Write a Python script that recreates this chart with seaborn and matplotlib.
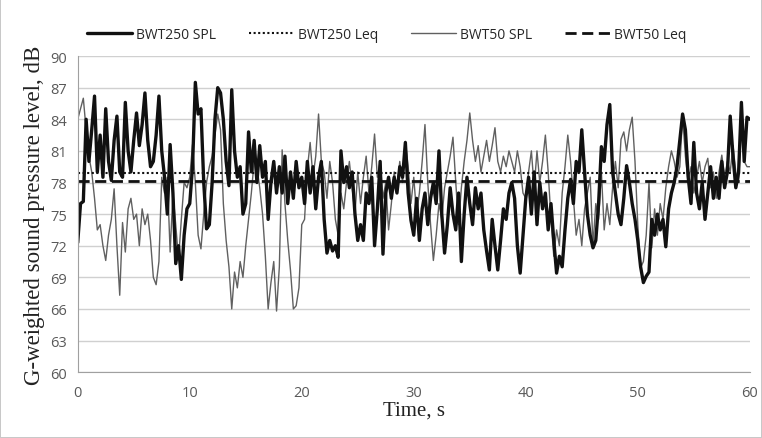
import matplotlib
matplotlib.use("Agg")
import matplotlib.pyplot as plt
import numpy as np
import pandas as pd
import seaborn as sns

# time axis, 0.25 s steps over 60 s
time_s = np.arange(0, 60.01, 0.25)

# BWT250 SPL, dB (4 values per second)
bwt250_spl = [
    72.3, 76.0, 76.2, 84.0, 80.0, 83.0, 86.2, 79.0, 82.5, 78.5, 85.0, 80.0,
    78.2, 82.0, 84.3, 79.0, 78.5, 85.6, 81.0, 79.0, 82.0, 84.6, 81.5, 83.5,
    86.5, 82.0, 79.5, 80.0, 82.5, 86.2, 81.0, 78.5, 75.0, 81.6, 77.0, 70.3,
    72.0, 68.8, 73.0, 75.5, 76.0, 79.5, 87.5, 84.5, 85.0, 78.0, 73.6, 74.0,
    78.0, 84.0, 87.0, 86.5, 84.0, 80.0, 77.7, 86.8, 81.0, 78.5, 79.5, 75.0,
    76.0, 82.8, 79.0, 82.0, 78.0, 81.5, 78.5, 80.0, 74.5, 78.0, 80.0, 77.0,
    79.5, 77.0, 80.5, 76.0, 79.0, 76.5, 80.0, 77.5, 78.5, 76.0, 80.0, 77.0,
    79.5, 75.5, 78.5, 80.0, 74.5, 71.3, 72.5, 71.5, 72.0, 70.9, 81.0, 78.0,
    79.5, 77.5, 79.0, 75.0, 72.5, 74.0, 72.5, 77.0, 76.0, 78.5, 72.0, 75.5,
    80.0, 71.2, 77.0, 78.5, 76.5, 78.5, 77.0, 79.5, 78.5, 81.8, 77.0, 74.4,
    73.0, 76.5, 72.5, 75.5, 77.0, 74.0, 76.5, 78.0, 76.0, 81.0, 75.0, 71.3,
    74.0, 77.5, 75.0, 73.5, 77.0, 70.5, 75.0, 78.5, 76.0, 74.0, 77.5, 75.5,
    77.0, 73.5, 71.5, 69.7, 74.5, 72.0, 69.7, 72.5, 75.5, 74.5, 77.0, 78.0,
    76.5, 72.0, 69.4, 73.0, 76.5, 78.5, 75.0, 79.0, 74.0, 78.0, 75.5, 77.0,
    73.5, 76.0, 72.5, 69.4, 71.0, 70.0, 73.5, 76.5, 78.3, 76.0, 80.0, 79.0,
    83.0, 79.0, 75.0, 73.0, 71.8, 72.5, 76.0, 81.4, 80.0, 83.5, 85.4, 79.0,
    77.0, 75.0, 74.0, 76.5, 79.6, 78.0, 76.0, 74.5, 72.5, 70.0, 68.5, 69.1,
    69.5, 74.5, 73.0, 75.0, 73.5, 74.5, 71.9, 75.5, 77.0, 78.0, 79.5, 82.0,
    84.5, 83.0, 78.5, 76.0, 81.8, 77.0, 75.5, 78.0, 74.5, 77.0, 79.5, 76.5,
    78.5, 76.5, 80.0, 77.5, 79.0, 84.3, 80.5, 77.5, 79.0, 85.6, 80.0, 84.2,
    84.0,
]

# BWT50 SPL, dB
bwt50_spl = [
    84.0, 85.0, 86.0, 83.0, 80.5, 79.0, 76.5, 73.5, 74.0, 72.0, 70.6, 73.0,
    74.5, 77.4, 72.0, 67.3, 74.2, 71.4, 75.5, 76.5, 74.5, 75.0, 72.0, 75.5,
    74.0, 75.0, 72.5, 69.0, 68.3, 70.5, 78.5, 77.0, 78.5, 71.4, 77.0, 74.0,
    70.7, 74.5, 78.0, 77.5, 78.5, 81.6, 78.0, 73.0, 71.7, 75.0, 78.0, 79.5,
    80.5, 82.5, 84.5, 83.0, 76.0, 72.5, 70.0, 66.0, 69.5, 68.0, 70.5, 69.0,
    72.0, 74.5, 77.0, 80.0, 79.5, 77.5, 75.0, 71.0, 66.0, 68.5, 70.5, 65.8,
    70.0, 81.1, 76.0, 72.5, 69.6, 66.0, 66.3, 68.0, 74.0, 74.5, 79.3, 81.8,
    78.5, 80.5, 84.5, 80.0, 79.0, 76.5, 80.0, 78.0, 74.5, 73.0, 77.0, 75.5,
    78.0, 80.0, 77.5, 75.0, 79.0, 76.0, 78.5, 80.5, 77.0, 79.5, 82.6, 78.5,
    80.0, 76.5, 78.0, 73.5, 76.0, 79.0, 77.5, 80.0, 78.0, 81.9, 79.5, 76.0,
    78.5, 75.0, 77.0, 80.0, 83.5, 78.0, 74.0, 70.6, 73.0, 76.0, 74.5, 77.5,
    79.0, 80.5, 82.3, 78.0, 74.0, 77.5, 80.0, 82.0, 84.6, 82.0, 80.0, 81.5,
    79.0, 80.5, 82.0, 80.0, 81.5, 83.2, 80.0, 79.0, 80.5, 79.5, 81.0, 80.0,
    79.0, 81.0, 79.5, 77.0, 76.5, 79.0, 81.0, 77.5, 81.0, 78.0, 80.0, 82.5,
    79.0, 74.5, 71.0, 73.5, 72.0, 77.0, 79.5, 82.5, 80.0, 76.5, 73.0, 74.5,
    72.0, 75.5, 77.0, 78.5, 72.0, 76.0, 74.5, 79.0, 73.5, 76.0, 74.0, 77.5,
    80.0, 77.5, 82.1, 82.8, 81.0, 83.0, 84.2, 80.0, 74.0, 69.9, 70.5, 73.0,
    78.0, 71.8, 75.5, 73.0, 76.0, 74.5, 77.5, 79.5, 81.0, 80.0, 78.5, 79.5,
    84.3, 80.5, 78.0, 79.5, 77.0, 78.5, 80.0, 78.0, 79.5, 80.3, 77.5, 79.0,
    76.5, 79.0, 80.6, 78.5, 80.0, 79.0, 81.5, 79.0, 78.0, 83.7, 80.0, 79.5,
    79.5,
]

# equivalent continuous levels
bwt250_leq = 78.9
bwt50_leq = 78.1

y_ticks = list(range(60, 91, 3))
x_ticks = list(range(0, 61, 10))

df = pd.DataFrame({"time": time_s, "BWT250 SPL": bwt250_spl, "BWT50 SPL": bwt50_spl})

sns.set_style("white")
plt.rcParams["font.family"] = ["Open Sans", "DejaVu Sans"]

fig = plt.figure(figsize=(7.62, 4.39), dpi=100, edgecolor="#c8c8c8", linewidth=1.2)
ax = fig.add_axes([0.102, 0.150, 0.882, 0.720])

ax.yaxis.grid(True, color="#d0d0d0", linewidth=1.0)
ax.set_axisbelow(True)

sns.lineplot(data=df, x="time", y="BWT50 SPL", ax=ax, color="#606060", linewidth=1.0,
             label="BWT50 SPL")
sns.lineplot(data=df, x="time", y="BWT250 SPL", ax=ax, color="#111111", linewidth=2.4,
             label="BWT250 SPL")
ax.axhline(bwt250_leq, color="#111111", linestyle=(0, (1, 1.2)), linewidth=1.5,
           label="BWT250 Leq")
ax.axhline(bwt50_leq, color="#111111", linestyle=(0, (4, 2)), linewidth=2.0,
           label="BWT50 Leq")

ax.set_xlim(0, 60)
ax.set_ylim(60, 90)
ax.set_xticks(x_ticks)
ax.set_yticks(y_ticks)
ax.tick_params(axis="both", labelsize=10.5, colors="#595959", length=4, width=0.8)
ax.tick_params(axis="x", pad=5)
for side in ["top", "right"]:
    ax.spines[side].set_visible(False)
for side in ["left", "bottom"]:
    ax.spines[side].set_color("#a0a0a0")

ax.set_xlabel("Time, s", family="Liberation Serif", fontsize=15, color="#222222", labelpad=1)
ax.set_ylabel("G-weighted sound pressure level, dB", family="Liberation Serif",
              fontsize=16.5, color="#222222", labelpad=4)

handles, labels = ax.get_legend_handles_labels()
order = [labels.index(n) for n in ["BWT250 SPL", "BWT250 Leq", "BWT50 SPL", "BWT50 Leq"]]
ax.legend([handles[i] for i in order], [labels[i] for i in order], ncol=4, frameon=False,
          loc="lower center", bbox_to_anchor=(0.46, 1.0), fontsize=10, handlelength=3.2,
          columnspacing=2.4, handletextpad=0.3, borderaxespad=0.6)

fig.savefig("out.png", dpi=100)
